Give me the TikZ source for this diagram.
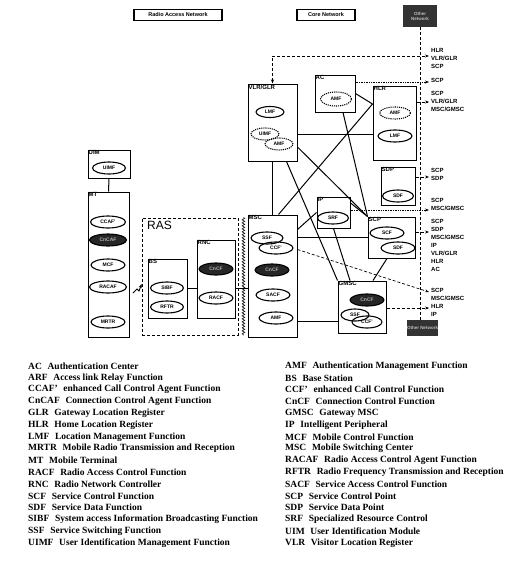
\documentclass[tikz,border=0pt]{standalone}
\usepackage{fontspec}
\setmainfont{Liberation Serif}
\setsansfont{Liberation Sans}
\usetikzlibrary{arrows.meta,decorations.pathmorphing,shapes.geometric}

\begin{document}
\begin{tikzpicture}[x=1pt,y=-1pt,
    unit/.style={draw,line width=1pt,inner sep=0pt},
    fn/.style={draw,ellipse,line width=1.1pt,inner sep=0pt,minimum width=33pt,minimum height=12pt,
      font=\sffamily\bfseries\fontsize{5}{5}\selectfont},
    fndark/.style={fn,fill=black!85,text=black!30},
    fndot/.style={fn,densely dotted},
    lbl/.style={anchor=north west,inner sep=1pt,font=\sffamily\bfseries\fontsize{6}{6}\selectfont},
    link/.style={line width=1pt},
    ref/.style={densely dashed,line width=0.7pt,-{Stealth[length=4pt]}},
    dest/.style={anchor=north west,align=left,inner sep=0pt,
      font=\sffamily\bfseries\fontsize{6}{8}\selectfont},
    net/.style={draw,line width=1.2pt,inner sep=0pt,font=\sffamily\bfseries\fontsize{5.5}{6}\selectfont},
    other/.style={fill=black!80,text=black!25,inner sep=0pt,align=center,
      font=\sffamily\bfseries\fontsize{4.5}{5}\selectfont},
    legend/.style={anchor=west,inner sep=0pt,font=\bfseries\fontsize{9.5}{10}\selectfont}]
  \useasboundingbox (0,0) rectangle (524,562);

  % legend of the network parts
  \node[net,minimum width=88pt,minimum height=11pt] (ranlg) at (178,15) {Radio Access Network};
  \node[net,minimum width=58pt,minimum height=11pt] (cnlg) at (326,15) {Core Network};
  \node[other,minimum width=34pt,minimum height=22pt] (otop) at (420,16) {Other\\Network};
  \node[other,minimum width=31pt,minimum height=16pt] (obot) at (422.5,328) {Other Network};

  % terminal side
  \node[unit,minimum width=42pt,minimum height=28pt] (uim) at (109,164) {};
  \node[unit,minimum width=41pt,minimum height=145pt] (mt) at (108.5,264.5) {};
  \node[lbl] (uimlbl) at (uim.north west) {UIM};
  \node[lbl] (mtlbl) at (mt.north west) {MT};
  \node[fn] (uimf) at (109,168) {UIMF};
  \node[fn,minimum width=35pt] (ccaf) at (108,222) {CCAF'};
  \node[fndark,minimum width=37pt] (cncaf) at (108,240) {CnCAF};
  \node[fn,minimum width=34pt] (mcf) at (108,265) {MCF};
  \node[fn,minimum width=37pt] (racaf) at (108,287) {RACAF};
  \node[fn,minimum width=34pt] (mrtr) at (108,322) {MRTR};

  % radio access
  \node[unit,densely dashed,line width=0.8pt,minimum width=96pt,minimum height=117pt] (ras) at (190,276.5) {};
  \node[anchor=north west,inner sep=0pt,font=\sffamily\fontsize{12}{12}\selectfont] (raslbl) at (147,221) {RAS};
  \node[unit,minimum width=39pt,minimum height=59pt] (bs) at (167.5,288.5) {};
  \node[unit,minimum width=38pt,minimum height=78pt] (rnc) at (216,279) {};
  \node[lbl] (bslbl) at (bs.north west) {BS};
  \node[lbl] (rnclbl) at (rnc.north west) {RNC};
  \node[fn] (sibf) at (167,288) {SIBF};
  \node[fn] (rftr) at (167,307) {RFTR};
  \node[fndark,minimum width=34pt] (cncfr) at (216,269) {CnCF};
  \node[fn,minimum width=34pt] (racf) at (216,298) {RACF};

  % core network
  \node[unit,minimum width=49pt,minimum height=77pt] (vlr) at (272.5,122.5) {};
  \node[unit,minimum width=40pt,minimum height=37pt] (ac) at (335,93.5) {};
  \node[unit,minimum width=43pt,minimum height=74pt] (hlr) at (394.5,123) {};
  \node[unit,minimum width=34pt,minimum height=38pt] (sdp) at (398,186) {};
  \node[unit,minimum width=33pt,minimum height=31pt] (ip) at (333.5,212.5) {};
  \node[unit,minimum width=47pt,minimum height=41pt] (scp) at (391.5,237.5) {};
  \node[unit,minimum width=49pt,minimum height=122pt] (msc) at (272.5,276) {};
  \node[unit,minimum width=48pt,minimum height=52pt] (gmsc) at (362,307) {};
  \node[lbl] (vlrlbl) at (vlr.north west) {VLR/GLR};
  \node[lbl] (aclbl) at (ac.north west) {AC};
  \node[lbl] (hlrlbl) at (hlr.north west) {HLR};
  \node[lbl] (sdplbl) at (sdp.north west) {SDP};
  \node[lbl] (iplbl) at (ip.north west) {IP};
  \node[lbl] (scplbl) at (scp.north west) {SCP};
  \node[lbl] (msclbl) at (msc.north west) {MSC};
  \node[lbl] (gmsclbl) at (gmsc.north west) {GMSC};

  \node[fn,minimum width=28pt,minimum height=11pt] (lmfv) at (270,112) {LMF};
  \node[fndot,minimum width=28pt] (uimfv) at (265,134) {UIMF};
  \node[fndot,minimum width=28pt] (amfv) at (279,144) {AMF};
  \node[fndot,minimum width=31pt,minimum height=14pt] (amfa) at (336,99) {AMF};
  \node[fndot,minimum width=31pt] (amfh) at (395,113) {AMF};
  \node[fn,minimum width=34pt] (lmfh) at (395,136) {LMF};
  \node[fn,minimum width=31pt] (sdfd) at (398,196) {SDF};
  \node[fn,minimum width=31pt] (srf) at (333,218) {SRF};
  \node[fn,minimum width=34pt] (scf) at (387,233) {SCF};
  \node[fn,minimum width=34pt] (sdfs) at (398,248) {SDF};
  \node[fn,minimum width=32pt] (ssfm) at (267,238) {SSF};
  \node[fn,minimum width=34pt] (ccfm) at (276,248) {CCF'};
  \node[fndark,minimum width=34pt] (cncfm) at (272,270) {CnCF};
  \node[fn,minimum width=34pt] (sacf) at (273,295) {SACF};
  \node[fn,minimum width=34pt] (amfm) at (276,318) {AMF};
  \node[fndark,minimum width=34pt] (cncfg) at (367,300) {CnCF};
  \node[fn,minimum width=28pt] (ssfg) at (355,315) {SSF};
  \node[fn,minimum width=30pt] (ccfg) at (367,322) {CCF'};

  % links
  \draw[link] (uim.south) -- (mt.north);
  \draw[link] (bs.east) -- (bs.east -| rnc.west);
  \draw[link] (rnc.east |- bs.east) -- (msc.west |- bs.east);
  \coordinate (radio) at (133,293);
  \draw[line width=0.9pt,-{Stealth[length=4pt]}] (radio) -- ++(4,-4) -- ++(2,2) -- (ras.west |- 0,284);
  \draw[decorate,decoration={zigzag,segment length=3pt,amplitude=1.3pt},line width=0.6pt]
    ([xshift=5pt]ras.north east) -- ([xshift=5pt]ras.south east);

  \draw[link] ([yshift=-11.5pt]vlr.east) -- ([yshift=-11pt]hlr.west);
  \draw[link] (ac.east) -- ([yshift=19pt]hlr.west);
  \draw[link] (vlr.south) -- (msc.north);
  \draw[link] ([xshift=14pt]vlr.south) -- (gmsc.north west);
  \draw[link] ([yshift=-24.5pt]vlr.east) -- (scp.north west);
  \draw[link] ([yshift=19pt]hlr.west) -- ([xshift=6pt]msc.north);
  \draw[link] ([xshift=8pt]ac.south) -- (scp.north west);
  \draw[link] (ip.west) -- ([yshift=-15pt]msc.north east);
  \draw[link] ([yshift=9.5pt]ip.east) -- (scp.north west);
  \draw[link] (scp.west) -- (scp.west -| msc.east);
  \draw[link] (ip.south) -- ([xshift=-12pt]gmsc.north);
  \draw[link] ([xshift=-4.5pt]scp.south) -- ([xshift=11pt]gmsc.north);
  \draw[link] ([yshift=-14pt]gmsc.west) -- ([yshift=-14pt]gmsc.west -| msc.east);

  % references to other entities
  \draw[densely dashed,line width=0.7pt] (otop.south) -- (otop.south |- obot.north);
  \coordinate (t1) at (429,56);
  \coordinate (t2) at (429,82);
  \coordinate (t3) at (429,102);
  \coordinate (t4) at (429,177);
  \coordinate (t5) at (429,210);
  \coordinate (t6) at (429,232);
  \coordinate (t7) at (429,292);
  \coordinate (t8) at (429,308);
  \node[dest] (d1) at (431,48) {HLR\\VLR/GLR\\SCP};
  \node[dest] (d2) at (431,78) {SCP};
  \node[dest] (d3) at (431,91) {SCP\\VLR/GLR\\MSC/GMSC};
  \node[dest] (d4) at (431,168) {SCP\\SDP};
  \node[dest] (d5) at (431,198) {SCP\\MSC/GMSC};
  \node[dest] (d6) at (431,219) {SCP\\SDP\\MSC/GMSC\\IP\\VLR/GLR\\HLR\\AC};
  \node[dest] (d7) at (431,288) {SCP\\MSC/GMSC};
  \node[dest] (d8) at (431,304) {HLR\\IP};
  \draw[ref,{Stealth[length=4pt]}-{Stealth[length=4pt]}] (vlr.north) |- (t1);
  \draw[ref,densely dotted] ([yshift=11.5pt]ac.east) -- (t2);
  \draw[ref] (hlr.east |- t3) -- (t3);
  \draw[ref] (sdp.east |- t4) -- (t4);
  \draw[ref,densely dotted] (ip.east |- t5) -- (t5);
  \draw[ref] (scp.east |- t6) -- (t6);
  \draw[ref] ([yshift=-35pt]msc.north east) -- (t7);
  \draw[ref] (gmsc.east |- t8) -- (t8);

  % abbreviations
  \foreach \ab/\tx [count=\i] in {AC/Authentication Center, ARF/Access link Relay Function,
      CCAF'/enhanced Call Control Agent Function, CnCAF/Connection Control Agent Function,
      GLR/Gateway Location Register, HLR/Home Location Register,
      LMF/Location Management Function, MRTR/Mobile Radio Transmission and Reception,
      MT/Mobile Terminal, RACF/Radio Access Control Function, RNC/Radio Network Controller,
      SCF/Service Control Function, SDF/Service Data Function,
      SIBF/System access Information Broadcasting Function,
      SSF/Service Switching Function, UIMF/User Identification Management Function}
    \node[legend] (la\i) at (28,{366+11.8*(\i-1)}) {\ab\hspace{0.6em}\tx};
  \foreach \ab/\tx [count=\i] in {AMF/Authentication Management Function, BS/Base Station,
      CCF'/enhanced Call Control Function, CnCF/Connection Control Function,
      GMSC/Gateway MSC, IP/Intelligent Peripheral, MCF/Mobile Control Function,
      MSC/Mobile Switching Center, RACAF/Radio Access Control Agent Function,
      RFTR/Radio Frequency Transmission and Reception, SACF/Service Access Control Function,
      SCP/Service Control Point, SDP/Service Data Point, SRF/Specialized Resource Control,
      UIM/User Identification Module, VLR/Visitor Location Register}
    \node[legend] (lb\i) at (285,{366+11.8*(\i-1)}) {\ab\hspace{0.6em}\tx};
\end{tikzpicture}
\end{document}
